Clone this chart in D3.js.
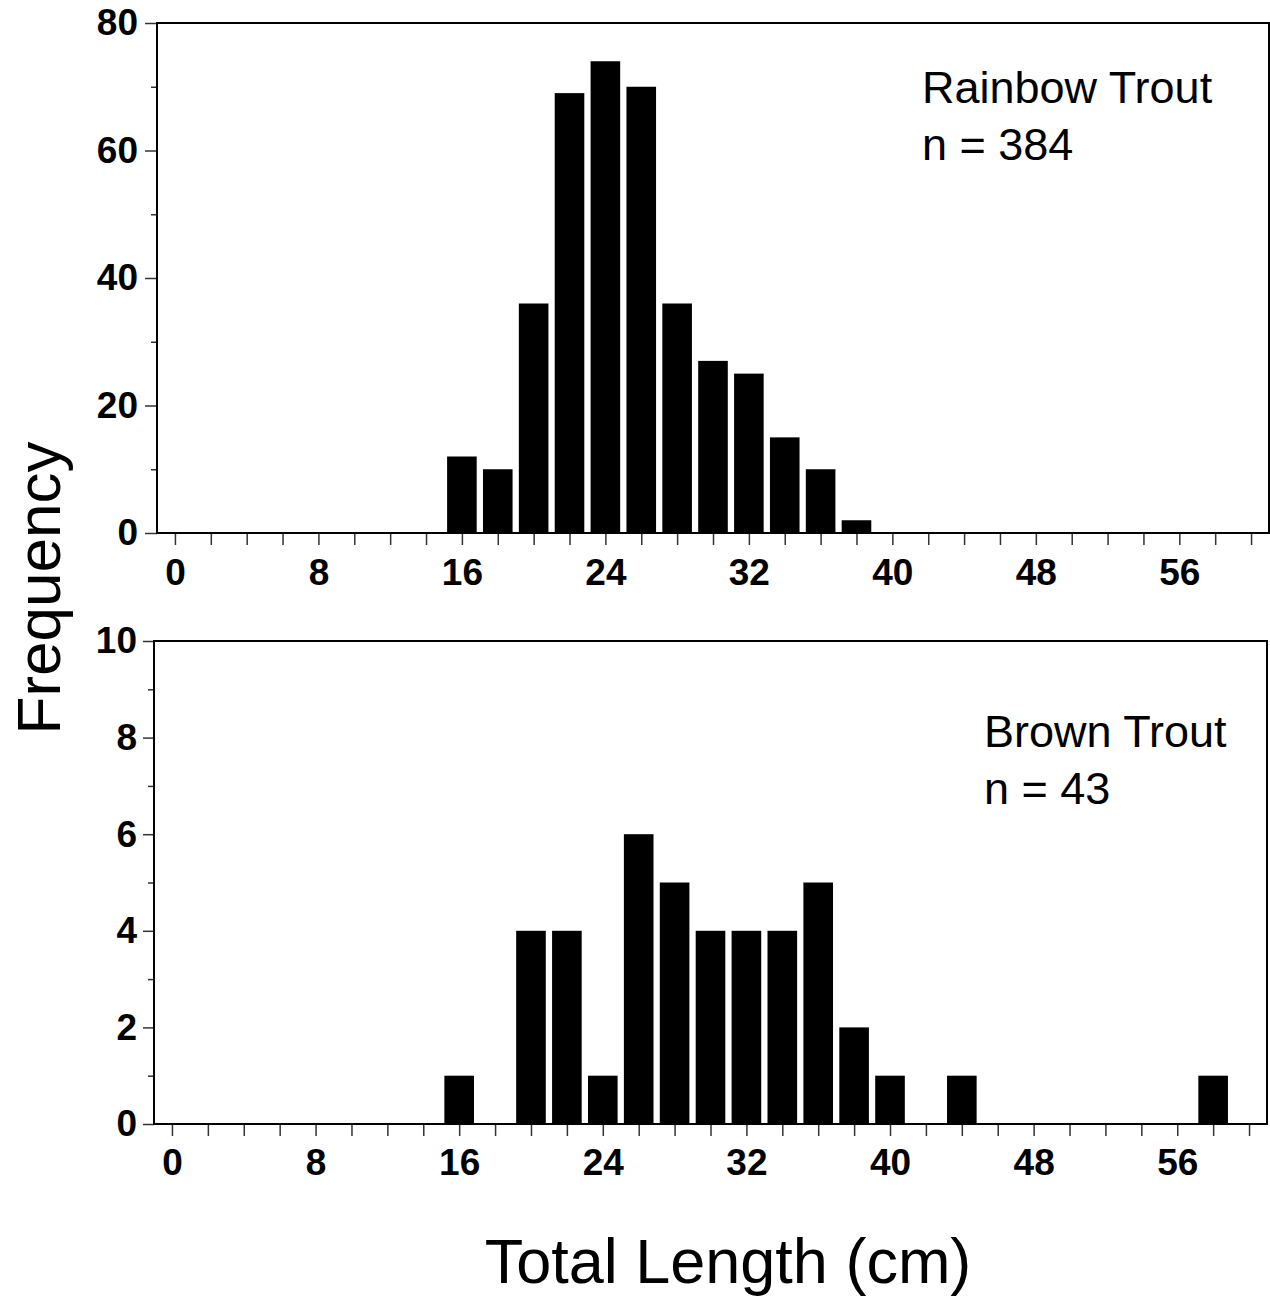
<!DOCTYPE html>
<html>
<head>
<meta charset="utf-8">
<script src="https://cdn.jsdelivr.net/npm/d3@7"></script>
<style>
	body { margin: 0; background: #fff; }
	text { font-family: "Liberation Sans", Arial, sans-serif; fill: #000; }
	.tick_label { font-size: 37px; font-weight: bold; }
</style>
</head>
<body>
<div id="content"></div>
<script>
/* length classes (cm), bar centres */
var rainbow_len = [16, 18, 20, 22, 24, 26, 28, 30, 32, 34, 36, 38];
var rainbow_freq = [12, 10, 36, 69, 74, 70, 36, 27, 25, 15, 10, 2];
var rainbow_n = 384;

var brown_len = [16, 20, 22, 24, 26, 28, 30, 32, 34, 36, 38, 40, 44, 58];
var brown_freq = [1, 4, 4, 1, 6, 5, 4, 4, 4, 5, 2, 1, 1, 1];
var brown_n = 43;

var x_ticks = d3.range(0, 61, 2);
var x_labels = [0, 8, 16, 24, 32, 40, 48, 56];
var rainbow_major = [0, 20, 40, 60, 80];
var rainbow_minor = [10, 30, 50, 70];
var brown_major = [0, 2, 4, 6, 8, 10];
var brown_minor = [1, 3, 5, 7, 9];

var svg = d3.select("#content").append("svg")
	.attr("width", 1270)
	.attr("height", 1297);

function draw_panel(p){
	var x = d3.scaleLinear().domain([-1, 61]).range([p.left, p.right]);
	var y = d3.scaleLinear().domain([0, p.ymax]).range([p.bottom, p.top]);
	var bw = x(1.65) - x(0);

	svg.append("g").selectAll("rect")
		.data(p.len)
		.enter().append("rect")
		.attr("x", function(d){ return x(d) - bw/2; })
		.attr("width", bw)
		.attr("y", function(d, i){ return y(p.freq[i]); })
		.attr("height", function(d, i){ return y(0) - y(p.freq[i]); })
		.attr("fill", "#000");

	// x axis, ticks every 2 cm, labels every 8
	var gx = svg.append("g")
		.attr("transform", "translate(0," + p.bottom + ")")
		.call(d3.axisBottom(x).tickValues(x_ticks).tickSize(12).tickPadding(p.xpad)
			.tickFormat(function(d){ return x_labels.indexOf(d) >= 0 ? d : ""; }));
	gx.select(".domain").remove();

	// y axis, minor ticks first
	var gm = svg.append("g")
		.attr("transform", "translate(" + p.left + ",0)")
		.call(d3.axisLeft(y).tickValues(p.minor).tickSize(6).tickFormat(""));
	gm.select(".domain").remove();

	var gy = svg.append("g")
		.attr("transform", "translate(" + p.left + ",0)")
		.call(d3.axisLeft(y).tickValues(p.major).tickSize(p.ytick).tickPadding(p.ypad));
	gy.select(".domain").remove();

	svg.selectAll(".tick line").attr("stroke", "#333").attr("stroke-width", 1.5);
	svg.selectAll(".tick text").attr("class", "tick_label").attr("font-family", null).attr("font-size", null);

	svg.append("rect")
		.attr("x", p.left)
		.attr("y", p.top)
		.attr("width", p.right - p.left)
		.attr("height", p.bottom - p.top)
		.attr("fill", "none")
		.attr("stroke", "#000")
		.attr("stroke-width", 2);

	svg.append("text")
		.attr("x", p.lx)
		.attr("y", p.ly)
		.attr("font-size", 45)
		.text(p.name);
	svg.append("text")
		.attr("x", p.lx)
		.attr("y", p.ly + 57)
		.attr("font-size", 45)
		.text("n = " + p.n);
}

draw_panel({len: rainbow_len, freq: rainbow_freq, ymax: 80, major: rainbow_major, minor: rainbow_minor,
	left: 157, right: 1269, top: 23, bottom: 533, xpad: 14, ytick: 12, ypad: 7,
	name: "Rainbow Trout", n: rainbow_n, lx: 922, ly: 103});

draw_panel({len: brown_len, freq: brown_freq, ymax: 10, major: brown_major, minor: brown_minor,
	left: 154, right: 1267, top: 641, bottom: 1124, xpad: 13, ytick: 11, ypad: 6,
	name: "Brown Trout", n: brown_n, lx: 984, ly: 747});

svg.append("text")
	.attr("transform", "translate(60,588) rotate(-90)")
	.attr("text-anchor", "middle")
	.attr("font-size", 62)
	.text("Frequency");

svg.append("text")
	.attr("x", 728)
	.attr("y", 1283)
	.attr("text-anchor", "middle")
	.attr("font-size", 63)
	.text("Total Length (cm)");
</script>
</body>
</html>
